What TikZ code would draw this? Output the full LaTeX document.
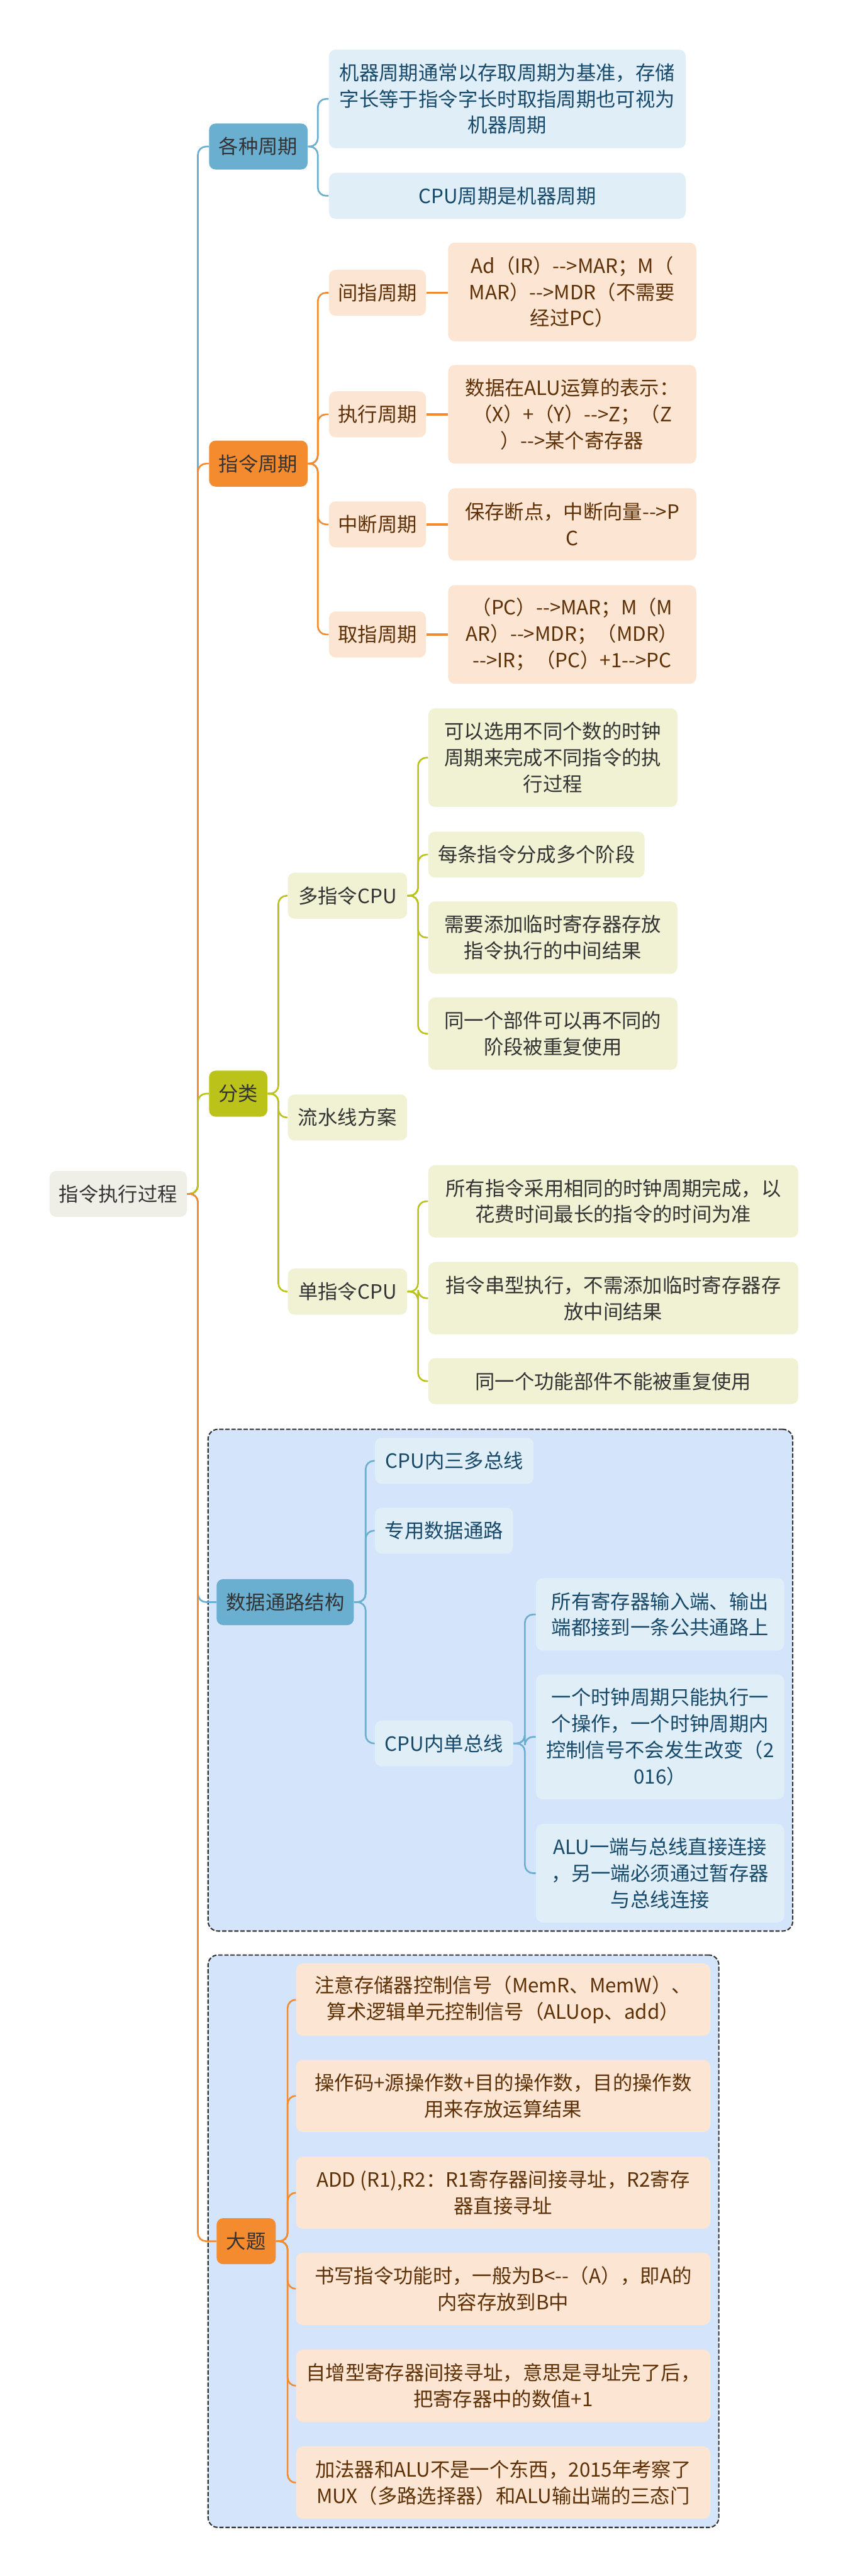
\documentclass[tikz,border=0pt]{standalone}
\usepackage{fontspec}
\setmainfont{Noto Sans CJK SC}
\usepackage{xcolor}
\usetikzlibrary{fit, backgrounds}

\definecolor{blueC}{HTML}{6AAED0}
\definecolor{orangeC}{HTML}{F48B2E}
\definecolor{greenC}{HTML}{BBC31B}
\definecolor{rootF}{HTML}{EFEFE8}
\definecolor{blueL}{HTML}{E0EEF7}
\definecolor{orangeL}{HTML}{FCE6D3}
\definecolor{greenL}{HTML}{F0F2D3}
\definecolor{groupF}{HTML}{D4E4FB}
\definecolor{inkD}{HTML}{333333}
\definecolor{inkB}{HTML}{17496A}
\definecolor{inkO}{HTML}{5E3006}

% arrow written as text, without the -- ligature
\newcommand{\tto}{-\kern0pt-\kern0pt>}
\newcommand{\ott}{<\kern0pt-\kern0pt-}

\begin{document}
\begin{tikzpicture}[
    x=1pt, y=-1pt,
    sz/.style 2 args={minimum width=#1pt, minimum height=#2pt},
    base/.style={
      rectangle, rounded corners=4pt, anchor=north west, inner sep=0pt,
      align=center, font=\fontsize{12}{16}\selectfont
    },
    rootbox/.style={base, fill=rootF, text=inkD},
    bmain/.style={base, fill=blueC, text=inkD},
    omain/.style={base, fill=orangeC, text=inkD},
    gmain/.style={base, fill=greenC, text=inkD},
    bleaf/.style={base, fill=blueL, text=inkB},
    oleaf/.style={base, fill=orangeL, text=inkO},
    gleaf/.style={base, fill=greenL, text=inkD},
    bline/.style={draw=blueC, line width=1pt, rounded corners=5pt},
    oline/.style={draw=orangeC, line width=1pt, rounded corners=5pt},
    gline/.style={draw=greenC, line width=1pt, rounded corners=5pt},
    dashgroup/.style={
      draw=inkD, line width=0.8pt, dash pattern=on 2.6pt off 1.1pt,
      fill=groupF, rounded corners=6pt, inner sep=5pt
    }
  ]
  \useasboundingbox (0,0) rectangle (516,1568);

  % Root and first level
  \node[rootbox, sz={83.5}{28}] (root) at (30,712.5) {指令执行过程};
  \node[bmain, sz={60}{28}]   (cyc)  at (127,75)     {各种周期};
  \node[omain, sz={60}{28}]   (icyc) at (127,268)    {指令周期};
  \node[gmain, sz={35.5}{28}] (cls)  at (127,651.5)  {分类};
  \node[bmain, sz={83.5}{28}] (path) at (131.6,961)  {数据通路结构};
  \node[omain, sz={36}{28}]   (big)  at (131.6,1350) {大题};

  % 各种周期
  \node[bleaf, sz={217}{60}] (cyc1) at (200,30)
    {机器周期通常以存取周期为基准，存储\\字长等于指令字长时取指周期也可视为\\机器周期};
  \node[bleaf, sz={217}{28}] (cyc2) at (200,105) {CPU周期是机器周期};

  % 指令周期
  \node[oleaf, sz={59}{28}] (ind)  at (200,164) {间指周期};
  \node[oleaf, sz={59}{28}] (exe)  at (200,238) {执行周期};
  \node[oleaf, sz={59}{28}] (intr) at (200,305) {中断周期};
  \node[oleaf, sz={59}{28}] (fet)  at (200,372) {取指周期};
  \node[oleaf, sz={151}{60}] (ind1) at (272.5,147.5)
    {Ad（IR）\tto MAR；M（\\MAR）\tto MDR（不需要\\经过PC）};
  \node[oleaf, sz={151}{60}] (exe1) at (272.5,222)
    {数据在ALU运算的表示：\\（X）+（Y）\tto Z；（Z\\）\tto 某个寄存器};
  \node[oleaf, sz={151}{44}] (intr1) at (272.5,297)
    {保存断点，中断向量\tto P\\C};
  \node[oleaf, sz={151}{60}] (fet1) at (272.5,356)
    {（PC）\tto MAR；M（M\\AR）\tto MDR；（MDR）\\\tto IR；（PC）+1\tto PC};

  % 分类
  \node[gleaf, sz={72.5}{28}] (multi)  at (175,531) {多指令CPU};
  \node[gleaf, sz={72.5}{28}] (pipe)   at (175,666) {流水线方案};
  \node[gleaf, sz={72.5}{28}] (single) at (175,772) {单指令CPU};
  \node[gleaf, sz={151.5}{60}] (multi1) at (260.5,431)
    {可以选用不同个数的时钟\\周期来完成不同指令的执\\行过程};
  \node[gleaf, sz={131.5}{28}] (multi2) at (260.5,506) {每条指令分成多个阶段};
  \node[gleaf, sz={151.5}{44}] (multi3) at (260.5,548.5)
    {需要添加临时寄存器存放\\指令执行的中间结果};
  \node[gleaf, sz={151.5}{44}] (multi4) at (260.5,607)
    {同一个部件可以再不同的\\阶段被重复使用};
  \node[gleaf, sz={225}{44}] (single1) at (260.5,709)
    {所有指令采用相同的时钟周期完成，以\\花费时间最长的指令的时间为准};
  \node[gleaf, sz={225}{44}] (single2) at (260.5,768)
    {指令串型执行，不需添加临时寄存器存\\放中间结果};
  \node[gleaf, sz={225}{28}] (single3) at (260.5,826.5)
    {同一个功能部件不能被重复使用};

  % 数据通路结构
  \node[bleaf, sz={96.5}{28}] (bus3) at (228,875)    {CPU内三多总线};
  \node[bleaf, sz={84}{28}]   (ded)  at (228,917.5)  {专用数据通路};
  \node[bleaf, sz={84}{28}]   (bus1) at (228,1047)   {CPU内单总线};
  \node[bleaf, sz={151}{44}] (bus1a) at (326,960.5)
    {所有寄存器输入端、输出\\端都接到一条公共通路上};
  \node[bleaf, sz={151}{76}] (bus1b) at (326,1019)
    {一个时钟周期只能执行一\\个操作，一个时钟周期内\\控制信号不会发生改变（2\\016）};
  \node[bleaf, sz={151}{60}] (bus1c) at (326,1110)
    {ALU一端与总线直接连接\\，另一端必须通过暂存器\\与总线连接};

  % 大题
  \node[oleaf, sz={252}{44}] (big1) at (180,1195)
    {注意存储器控制信号（MemR、MemW）、\\算术逻辑单元控制信号（ALUop、add）};
  \node[oleaf, sz={252}{44}] (big2) at (180,1253.5)
    {操作码+源操作数+目的操作数，目的操作数\\用来存放运算结果};
  \node[oleaf, sz={252}{44}] (big3) at (180,1312.5)
    {ADD (R1),R2：R1寄存器间接寻址，R2寄存\\器直接寻址};
  \node[oleaf, sz={252}{44}] (big4) at (180,1371)
    {书写指令功能时，一般为B\ott（A），即A的\\内容存放到B中};
  \node[oleaf, sz={252}{44}] (big5) at (180,1430)
    {自增型寄存器间接寻址，意思是寻址完了后，\\把寄存器中的数值+1};
  \node[oleaf, sz={252}{44}] (big6) at (180,1489)
    {加法器和ALU不是一个东西，2015年考察了\\MUX（多路选择器）和ALU输出端的三态门};

  % Trunk from the root (drawn in this order so the right colour stays on top)
  \draw[bline] (root.east) -- ++(6.5,0) |- (cyc.west);
  \draw[oline] (root.east) -- ++(6.5,0) |- (icyc.west);
  \draw[gline] (root.east) -- ++(6.5,0) |- (cls.west);
  \draw[bline] (root.east) -- ++(6.5,0) |- (path.west);
  \draw[oline] (root.east) -- ++(6.5,0) |- (big.west);

  % Brackets
  \draw[bline] (cyc.east) -- ++(6,0) |- (cyc1.west);
  \draw[bline] (cyc.east) -- ++(6,0) |- (cyc2.west);

  \draw[oline] (icyc.east) -- ++(6,0) |- (ind.west);
  \draw[oline] (icyc.east) -- ++(6,0) |- (exe.west);
  \draw[oline] (icyc.east) -- ++(6,0) |- (intr.west);
  \draw[oline] (icyc.east) -- ++(6,0) |- (fet.west);
  \draw[oline, line width=1.4pt] (ind.east)  -- (ind.east -| ind1.west);
  \draw[oline, line width=1.4pt] (exe.east)  -- (exe.east -| exe1.west);
  \draw[oline, line width=1.4pt] (intr.east) -- (intr.east -| intr1.west);
  \draw[oline, line width=1.4pt] (fet.east)  -- (fet.east -| fet1.west);

  \draw[gline] (cls.east) -- ++(6.5,0) |- (multi.west);
  \draw[gline] (cls.east) -- ++(6.5,0) |- (pipe.west);
  \draw[gline] (cls.east) -- ++(6.5,0) |- (single.west);
  \draw[gline] (multi.east) -- ++(6.5,0) |- (multi1.west);
  \draw[gline] (multi.east) -- ++(6.5,0) |- (multi2.west);
  \draw[gline] (multi.east) -- ++(6.5,0) |- (multi3.west);
  \draw[gline] (multi.east) -- ++(6.5,0) |- (multi4.west);
  \draw[gline] (single.east) -- ++(6.5,0) |- (single1.west);
  \draw[gline] (single.east) -- ++(6.5,0) |- (single2.west);
  \draw[gline] (single.east) -- ++(6.5,0) |- (single3.west);

  \draw[bline] (path.east) -- ++(7,0) |- (bus3.west);
  \draw[bline] (path.east) -- ++(7,0) |- (ded.west);
  \draw[bline] (path.east) -- ++(7,0) |- (bus1.west);
  \draw[bline] (bus1.east) -- ++(7,0) |- (bus1a.west);
  \draw[bline] (bus1.east) -- ++(7,0) |- (bus1b.west);
  \draw[bline] (bus1.east) -- ++(7,0) |- (bus1c.west);

  \draw[oline] (big.east) -- ++(7,0) |- (big1.west);
  \draw[oline] (big.east) -- ++(7,0) |- (big2.west);
  \draw[oline] (big.east) -- ++(7,0) |- (big3.west);
  \draw[oline] (big.east) -- ++(7,0) |- (big4.west);
  \draw[oline] (big.east) -- ++(7,0) |- (big5.west);
  \draw[oline] (big.east) -- ++(7,0) |- (big6.west);

  % Dashed group frames
  \begin{scope}[on background layer]
    \fill[white] (0,0) rectangle (516,1568);
    \node[dashgroup, fit=(path)(bus3)(bus1a)(bus1c)] (pathgrp) {};
    \node[dashgroup, fit=(big)(big1)(big6)] (biggrp) {};
  \end{scope}

\end{tikzpicture}
\end{document}
